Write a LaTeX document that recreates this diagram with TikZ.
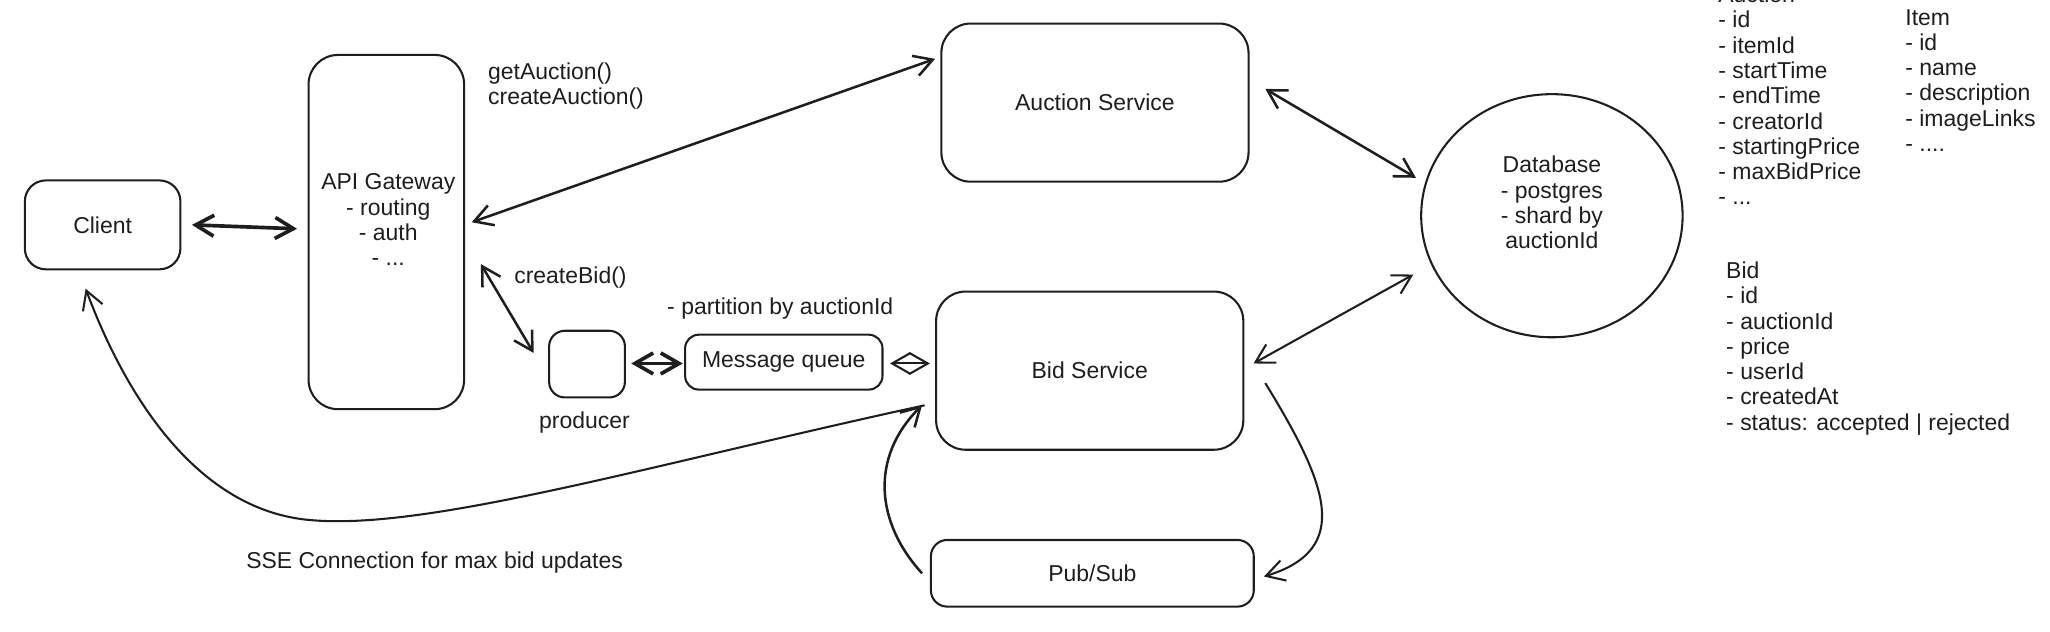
\documentclass[tikz,border=0pt]{standalone}
\usepackage{fontspec}
\setmainfont{Liberation Sans}
\usetikzlibrary{arrows.meta,shapes.geometric,calc}
\definecolor{ink}{HTML}{1E1E1E}
\begin{document}
\begin{tikzpicture}[x=0.02cm,y=-0.02cm,
  every node/.style={font=\fontsize{10}{11}\selectfont, text=ink},
  box/.style={draw=ink, line width=0.9pt, inner sep=0pt},
  txt/.style={inner sep=0pt, align=center},
  lbl/.style={inner sep=0pt, anchor=west, align=left},
  >={Straight Barb[length=0.28cm,width=0.32cm]},
  conn/.style={draw=ink, line width=0.9pt},
  thickconn/.style={draw=ink, line width=1.6pt}]
\useasboundingbox (0,0) rectangle (1568,483);

% boxes
\node[box, rounded corners=0.32cm, minimum width=2.38cm, minimum height=1.36cm] (client) at (78.5,172) {Client};
\node[box, rounded corners=0.45cm, minimum width=2.38cm, minimum height=5.42cm] (gw) at (295.5,177.5) {};
\node[txt] (gwtxt) at (297,168) {API Gateway\\- routing\\- auth\\- ...};
\node[box, rounded corners=0.45cm, minimum width=4.7cm, minimum height=2.42cm] (auc) at (837.5,78.5) {Auction Service};
\node[box, rounded corners=0.45cm, minimum width=4.7cm, minimum height=2.42cm] (bid) at (833.5,283.5) {Bid Service};
\node[box, rounded corners=0.24cm, minimum width=1.16cm, minimum height=1.02cm] (prod) at (449,278.5) {};
\node[txt] (prodlbl) at (447,323) {producer};
\node[box, rounded corners=0.21cm, minimum width=3.02cm, minimum height=0.84cm] (mq) at (599.5,277) {Message queue};
\node[box, rounded corners=0.25cm, minimum width=4.94cm, minimum height=1.02cm] (ps) at (835.5,438.5) {Pub/Sub};
\node[box, ellipse, minimum width=4.0cm, minimum height=3.72cm] (db) at (1187,165) {};
\node[txt] (dbtxt) at (1187,155) {Database\\- postgres\\- shard by\\auctionId};

% labels
\node[lbl] (getlbl) at (373,66) {getAuction()\\createAuction()};
\node[lbl] (bidlbl) at (393,212) {createBid()};
\node[lbl] (partlbl) at (510,236) {- partition by auctionId};
\node[lbl] (sselbl) at (188,430) {SSE Connection for max bid updates};

% schema notes
\node[lbl] (auctionschema) at (1314,73) {Auction\\- id\\- itemId\\- startTime\\- endTime\\- creatorId\\- startingPrice\\- maxBidPrice\\- ...};
\node[lbl] (itemschema) at (1457,61.5) {Item\\- id\\- name\\- description\\- imageLinks\\- ....};
\node[lbl] (bidschema) at (1320,266.5) {Bid\\- id\\- auctionId\\- price\\- userId\\- createdAt\\- status: accepted | rejected};

% connectors
\draw[thickconn,<->] ($(client.east)+(8,0)$) -- ($(gw.west)+(-8,-2.5)$);
\draw[conn,<->,line width=1.1pt] ($(gw.east)+(5,-7.5)$) -- ($(auc.west)+(-4,-33.5)$);
\draw[conn,<->,line width=1.1pt] ($(auc.east)+(12,-10.5)$) -- ($(db.center)+(-104,-29)$);
\draw[conn,<->] ($(bid.east)+(7,-5.5)$) -- ($(db.center)+(-106,45)$);
\draw[conn,<->,line width=1.1pt] ($(gw.east)+(12,24.5)$) -- ($(prod.west)+(-11,-8.5)$);
\draw[thickconn,<->] ($(prod.east)+(4,-0.5)$) -- ($(mq.west)+(-1,1)$);
\draw[conn,<->] ($(mq.east)+(5,1)$) -- ($(bid.west)+(-4,-5.5)$);
\draw[conn,->] ($(bid.east)+(16,9.5)$) .. controls (1015,370) and (1035,420) .. ($(ps.east)+(7,2.5)$);
\draw[conn,->,line width=1.1pt] ($(ps.west)+(-6,0)$) .. controls (670,400) and (665,350) .. ($(bid.west)+(-10,26.5)$);
\draw[conn,->] ($(bid.west)+(-8,26.5)$) .. controls (500,355) and (330,405) .. (240,398) .. controls (150,392) and (95,300) .. ($(client.south)+(-13,14)$);
\end{tikzpicture}
\end{document}
